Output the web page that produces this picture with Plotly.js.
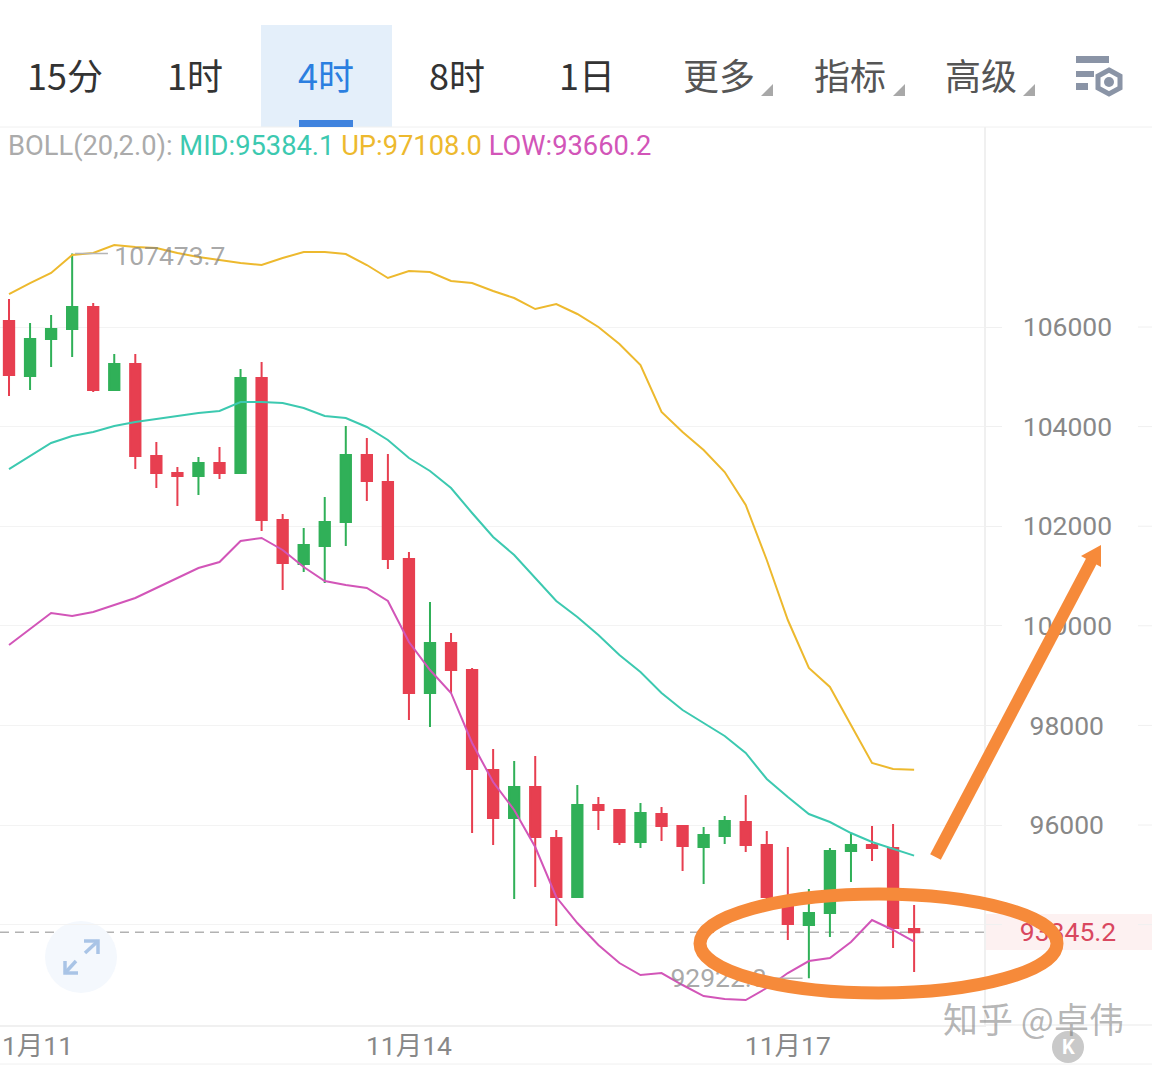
<!DOCTYPE html>
<html><head><meta charset="utf-8">
<script src="https://cdn.plot.ly/plotly-3.0.1.min.js"></script>
<style>html,body{margin:0;padding:0;background:#fff;overflow:hidden}#c{width:1152px;height:1065px}</style>
</head><body><div id="c"></div>
<script>
const xIndex=[0,1,2,3,4,5,6,7,8,9,10,11,12,13,14,15,16,17,18,19,20,21,22,23,24,25,26,27,28,29,30,31,32,33,34,35,36,37,38,39,40,41,42,43];
const openPrice=[106120,105016,105759,105960,106401,104735,105257,103410,103068,103008,103269,103068,104976,102124,101241,101602,102084,103430,102887,101341,98651,99655,99112,97104,96141,96763,95739,94554,96402,96301,95659,96221,95980,95558,95779,96060,95598,94554,93992,94233,95478,95598,95538,93912];
const closePrice=[105036,105759,105960,106401,104735,105257,103410,103068,103008,103269,103068,104976,102124,101261,101622,102084,103430,102907,101341,98651,99655,99112,97124,96141,96763,95759,94554,96402,96301,95659,96241,95980,95578,95799,96080,95598,94554,94012,94233,95478,95598,95538,93932,93845.2];
const highPrice=[106562,106080,106241,107473.7,106482,105458,105458,103691,103189,103389,103590,105157,105297,102245,101964,102586,104012,103771,103450,101482,100478,99855,99153,97526,97285,97386,95900,96803,96562,96321,96442,96361,95980,95960,96181,96602,95880,95558,94715,95538,95839,95980,96020,94394];
const lowPrice=[104614,104735,105197,105397,104695,104715,103149,102767,102406,102626,102948,103048,101904,100719,101080,100859,101602,102506,101141,98108,97968,98651,95839,95598,94514,94755,93972,94554,95900,95598,95538,95679,95076,94815,95618,95458,94514,93691,92922.8,93751,94855,95277,93530,93048];
const bollUp=[106662,106883,107084,107446,107486,107646,107606,107586,107486,107405,107345,107285,107245,107385,107506,107506,107466,107245,106984,107124,107104,106924,106883,106723,106582,106361,106462,106261,106000,105658,105237,104293,103891,103530,103088,102426,101321,100116,99153,98771,98008,97245,97124,97108];
const bollMid=[103148,103410,103671,103811,103891,104012,104092,104152,104213,104273,104313,104494,104494,104474,104373,104213,104173,103992,103731,103369,103108,102767,102265,101783,101422,100960,100498,100177,99815,99414,99072,98651,98309,98048,97787,97446,96924,96562,96221,96060,95839,95659,95518,95384.1];
const bollLow=[99614,99936,100257,100197,100277,100418,100558,100759,100960,101161,101281,101703,101763,101522,101181,100900,100819,100759,100498,99675,99112,98651,97647,96863,96301,95558,94554,94032,93590,93229,92988,93028,92787,92566,92506,92486,92727,93028,93269,93329,93651,94092,93892,93660.2];
const yTickVals=[94000,96000,98000,100000,102000,104000,106000];
const yTickText=['','\u200596000','\u200598000','100000','102000','104000','106000'];
const xTickVals=[1,19,37];
const xTickText=['11月11','11月14','11月17'];
const tabLabels=['15分','1时','4时','8时','1日','更多','指标','高级'];
const lastPrice=93845.2, maxHigh=107473.7, minLow=92922.8;

const W=1152,T=127,B=1025,H=B-T,PLOT=984;
const px=x=>x/W, py=y=>(B-y)/H;
const paper={xref:'paper',yref:'paper'};
const FONT="Roboto, 'Noto Sans CJK SC', sans-serif";
const CJK="'Noto Sans CJK SC', Roboto, sans-serif";
const ORANGE='#F68A3A';
function xyPath(x,y){return px(x)+','+py(y);}
const rect=(x0,y0,x1,y1,c,layer)=>({...paper,type:'rect',x0:px(x0),x1:px(x1),y0:py(y0),y1:py(y1),fillcolor:c,line:{width:0},layer:layer||'below'});
const line=(x0,y0,x1,y1,c,w,layer)=>({...paper,type:'line',x0:px(x0),x1:px(x1),y0:py(y0),y1:py(y1),line:{color:c,width:w},layer:layer||'above'});
const poly=(pts,c)=>({...paper,type:'path',path:'M'+pts.map(p=>xyPath(p[0],p[1])).join('L')+'Z',fillcolor:c,line:{width:0},layer:'above'});
const pathLine=(pts,c,w)=>({...paper,type:'path',path:'M'+pts.map(p=>xyPath(p[0],p[1])).join('L'),line:{color:c,width:w},layer:'above'});

const shapes=[
  rect(261,25,392,127,'#E4EFFA'),
  rect(299,120,353,127,'#3F83DE','above'),
  line(0,127,1152,127,'#F0F0F0',1,'below'),
  line(0,1064,1152,1064,'#F0F0F0',1,'below'),
  line(984,1025,1152,1025,'#F0F0F0',1.5,'below'),
  rect(984,914,1152,950,'#FDF1F1'),
  {type:'line',xref:'paper',x0:0,x1:px(PLOT),yref:'y',y0:lastPrice,y1:lastPrice,line:{color:'#B2B2B2',width:1.5,dash:'9px,6px'},layer:'below'},
  {...paper,type:'circle',x0:px(45),x1:px(117),y0:py(921),y1:py(993),fillcolor:'#F4F8FD',line:{width:0},layer:'below'},
  pathLine([[85,953],[98,941]],'#A9C4E6',3.5),pathLine([[84,941],[98,941],[98,954]],'#A9C4E6',3.5),
  pathLine([[76,961],[65,973]],'#A9C4E6',3.5),pathLine([[65,961],[65,973],[78,973]],'#A9C4E6',3.5),
  poly([[773,84],[773,96],[761,96]],'#A8A8A8'),poly([[905,84],[905,96],[893,96]],'#A8A8A8'),poly([[1035,84],[1035,96],[1023,96]],'#A8A8A8'),
  rect(1076,56,1109,63,'#8A94A6','above'),rect(1076,71,1094,77,'#8A94A6','above'),rect(1076,83,1088,90,'#8A94A6','above'),
  {...paper,type:'path',path:'M'+[[1109,70],[1120,76],[1120,88],[1109,94],[1098,88],[1098,76]].map(p=>xyPath(p[0],p[1])).join('L')+'Z',line:{color:'#8A94A6',width:5},fillcolor:'#fff',layer:'above'},
  {...paper,type:'circle',x0:px(1104),x1:px(1114),y0:py(77),y1:py(87),fillcolor:'#8A94A6',line:{width:0},layer:'above'},
  {...paper,type:'circle',x0:px(1052),x1:px(1084),y0:py(1031),y1:py(1063),fillcolor:'#C9C9C9',line:{width:0},layer:'above'},
  {...paper,type:'circle',x0:px(700),x1:px(1057),y0:py(894),y1:py(993),line:{color:ORANGE,width:13},layer:'above'},
  pathLine([[935.5,857],[1092,560]],ORANGE,12),
  poly([[1101,545],[1081,556],[1101,567]],ORANGE)
];
yTickVals.forEach(v=>shapes.push({type:'line',xref:'paper',x0:px(1138),x1:px(1152),yref:'y',y0:v,y1:v,line:{color:'#F0F0F0',width:1},layer:'below'}));

const tabX=[65,195,326,457,587,719,850,981];
const tabColor=['#333','#333','#2B7FE0','#333','#333','#555','#555','#555'];
const annotations=tabLabels.map((t,i)=>({...paper,x:px(tabX[i]),y:py(74),text:t,showarrow:false,xanchor:'center',yanchor:'middle',font:{family:CJK,size:36,color:tabColor[i]}}));
annotations.push({...paper,x:px(6),y:py(146),xanchor:'left',yanchor:'middle',showarrow:false,
  text:'<span style="color:#ABABAB">BOLL(20,2.0): </span><span style="color:#3CC9B0">MID:95384.1 </span><span style="color:#EDB92E">UP:97108.0 </span><span style="color:#D255B8">LOW:93660.2</span>',
  font:{family:FONT,size:27.3}});
annotations.push({...paper,x:px(1033),y:py(1017),xanchor:'center',yanchor:'middle',showarrow:false,text:'知乎 @卓伟',font:{family:CJK,size:35,color:'rgba(120,120,120,0.55)'}});
annotations.push({...paper,x:px(1068),y:py(1047),xanchor:'center',yanchor:'middle',showarrow:false,text:'<b>K</b>',font:{family:FONT,size:20,color:'#fff'}});

const band=(y,c)=>({type:'scatter',mode:'lines',x:xIndex,y:y,line:{color:c,width:2},hoverinfo:'skip',showlegend:false});
const label=(x,y,t,pos,c)=>({type:'scatter',mode:'text',x:[x],y:[y],text:[t],textposition:pos,textfont:{family:FONT,size:26.5,color:c},cliponaxis:false,hoverinfo:'skip',showlegend:false});
const conn=(x,y)=>({type:'scatter',mode:'lines',x:x,y:[y,y],line:{color:'#B5B5B5',width:1.5},hoverinfo:'skip',showlegend:false});

const data=[
 {type:'candlestick',x:xIndex,open:openPrice,close:closePrice,high:highPrice,low:lowPrice,whiskerwidth:0,
  increasing:{line:{color:'#30B058',width:2},fillcolor:'#30B058'},decreasing:{line:{color:'#E73F50',width:2},fillcolor:'#E73F50'},hoverinfo:'skip',showlegend:false},
 band(bollUp,'#EDB92E'),band(bollMid,'#3CC9B0'),band(bollLow,'#D255B8'),
 conn([3.14,4.7],maxHigh),conn([36.25,37.7],minLow),
 label(5.0,107380,'107473.7','middle right','rgba(130,130,130,0.7)'),
 label(36.0,92880,'92922.8','middle left','rgba(130,130,130,0.7)'),
 {...label(0.5,93805,'93845.2','middle center','#D9485F'),xaxis:'x2',yaxis:'y2'}
];
const yRange=[91984,110016];
const layout={width:1152,height:1065,margin:{l:0,r:0,t:127,b:40},paper_bgcolor:'#fff',plot_bgcolor:'rgba(0,0,0,0)',showlegend:false,hovermode:false,
 xaxis:{domain:[0,PLOT/W],type:'linear',range:[-0.428,46.32],rangeslider:{visible:false},showgrid:false,zeroline:false,showline:true,linecolor:'#F0F0F0',linewidth:1.5,tickmode:'array',tickvals:xTickVals,ticktext:xTickText,ticks:'',ticklabeloverflow:'allow',tickfont:{family:FONT,size:26.5,color:'#888'},ticklabelstandoff:-3},
 yaxis:{side:'right',range:yRange,showgrid:true,gridcolor:'#F3F3F3',gridwidth:1,zeroline:false,showline:true,linecolor:'#F0F0F0',linewidth:1.5,tickmode:'array',tickvals:yTickVals,ticktext:yTickText,ticks:'outside',ticklen:16,tickcolor:'#F0F0F0',tickwidth:1,tickfont:{family:FONT,size:26.5,color:'#888'},ticklabelstandoff:16},
 xaxis2:{domain:[PLOT/W,1],range:[0,1],visible:false,anchor:'y2'},
 yaxis2:{range:yRange,visible:false,anchor:'x2'},
 shapes:shapes,annotations:annotations};
Plotly.newPlot('c',data,layout,{displayModeBar:false,staticPlot:true});
</script></body></html>
